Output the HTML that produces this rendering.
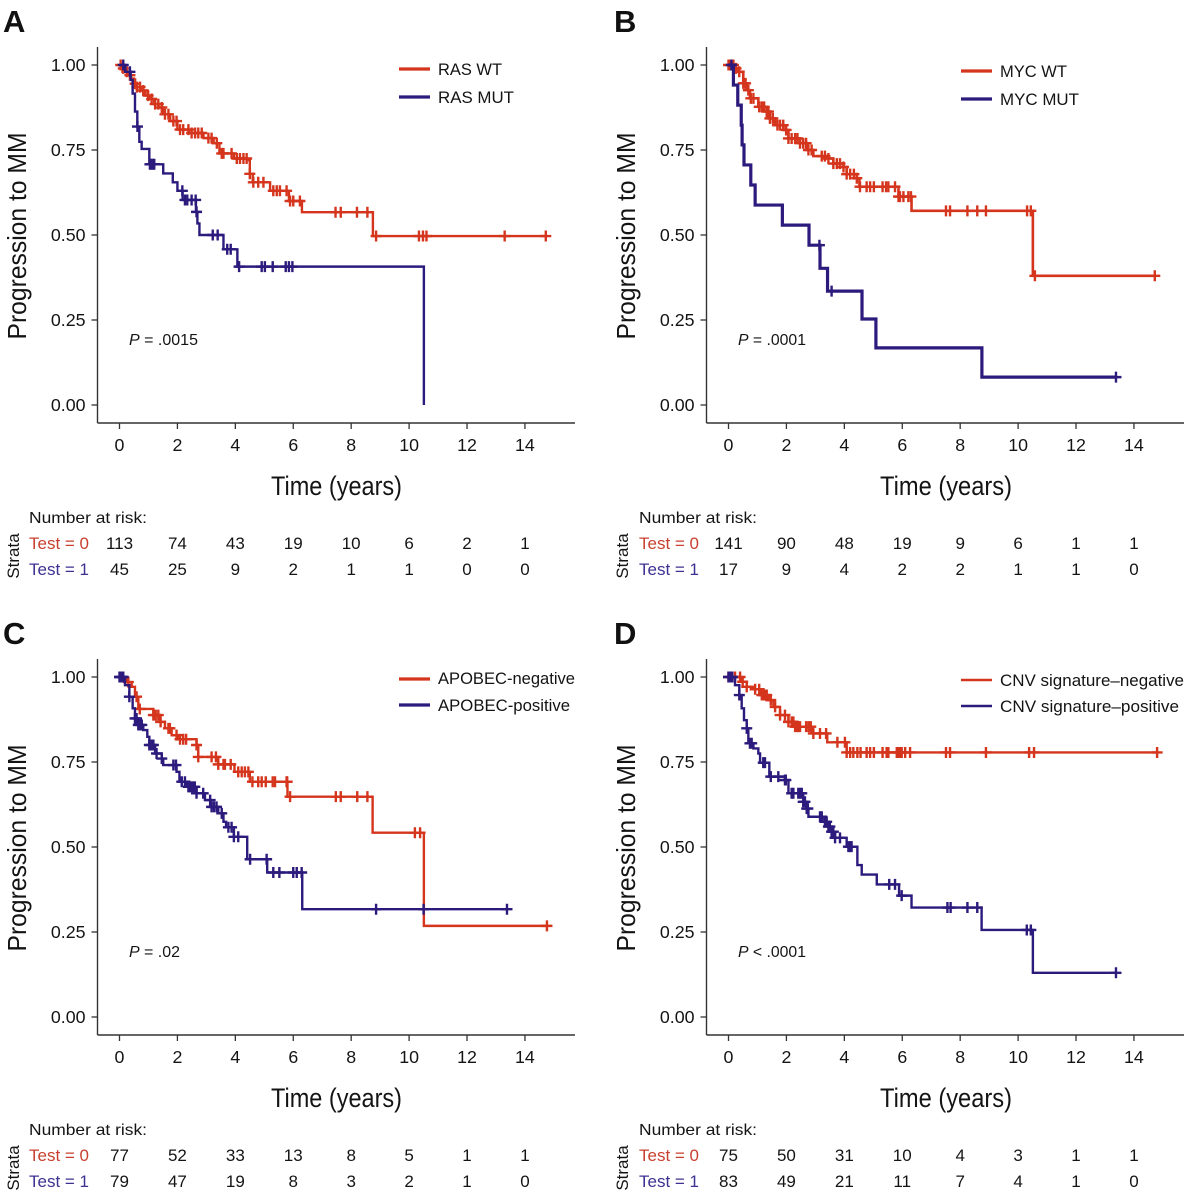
<!DOCTYPE html>
<html lang="en">
<head>
<meta charset="utf-8">
<title>Progression to MM Kaplan-Meier curves</title>
<style>
html,body{margin:0;padding:0;background:#fff;width:1195px;height:1200px;overflow:hidden}
svg{display:block}
text{font-family:"Liberation Sans",sans-serif;fill:#141414}
</style>
</head>
<body>
<svg id="figure" width="1195" height="1200" viewBox="0 0 1195 1200" xmlns="http://www.w3.org/2000/svg">
  <g>
    <text x="3" y="32" font-size="31" font-weight="bold" style="fill:#111">A</text>
    <text transform="translate(26,236) rotate(-90)" text-anchor="middle" font-size="26" textLength="207" lengthAdjust="spacingAndGlyphs">Progression to MM</text>
    <text x="271" y="495" font-size="27" textLength="131" lengthAdjust="spacingAndGlyphs">Time (years)</text>
    <text x="129" y="345" font-size="16" textLength="69" lengthAdjust="spacingAndGlyphs"><tspan font-style="italic">P</tspan> = .0015</text>
    <text x="29" y="523" font-size="16" textLength="118" lengthAdjust="spacingAndGlyphs">Number at risk:</text>
    <text transform="translate(19,556) rotate(-90)" text-anchor="middle" font-size="17">Strata</text>
    <text x="29" y="549" font-size="16.5" style="fill:#c8402f" textLength="60" lengthAdjust="spacingAndGlyphs">Test = 0</text>
    <text x="29" y="575" font-size="16.5" style="fill:#3d3192" textLength="60" lengthAdjust="spacingAndGlyphs">Test = 1</text>
    <text x="438" y="75" font-size="16.5" textLength="64" lengthAdjust="spacingAndGlyphs">RAS WT</text>
    <text x="438" y="103" font-size="16.5" textLength="76" lengthAdjust="spacingAndGlyphs">RAS MUT</text>
  </g>
  <g>
    <text x="614" y="32" font-size="31" font-weight="bold" style="fill:#111">B</text>
    <text transform="translate(635,236) rotate(-90)" text-anchor="middle" font-size="26" textLength="207" lengthAdjust="spacingAndGlyphs">Progression to MM</text>
    <text x="880" y="495" font-size="27" textLength="132" lengthAdjust="spacingAndGlyphs">Time (years)</text>
    <text x="738" y="345" font-size="16" textLength="68" lengthAdjust="spacingAndGlyphs"><tspan font-style="italic">P</tspan> = .0001</text>
    <text x="639" y="523" font-size="16" textLength="118" lengthAdjust="spacingAndGlyphs">Number at risk:</text>
    <text transform="translate(628,556) rotate(-90)" text-anchor="middle" font-size="17">Strata</text>
    <text x="639" y="549" font-size="16.5" style="fill:#c8402f" textLength="60" lengthAdjust="spacingAndGlyphs">Test = 0</text>
    <text x="639" y="575" font-size="16.5" style="fill:#3d3192" textLength="60" lengthAdjust="spacingAndGlyphs">Test = 1</text>
    <text x="1000" y="77" font-size="16.5" textLength="67" lengthAdjust="spacingAndGlyphs">MYC WT</text>
    <text x="1000" y="105" font-size="16.5" textLength="79" lengthAdjust="spacingAndGlyphs">MYC MUT</text>
  </g>
  <g>
    <text x="3" y="644" font-size="31" font-weight="bold" style="fill:#111">C</text>
    <text transform="translate(26,848) rotate(-90)" text-anchor="middle" font-size="26" textLength="207" lengthAdjust="spacingAndGlyphs">Progression to MM</text>
    <text x="271" y="1107" font-size="27" textLength="131" lengthAdjust="spacingAndGlyphs">Time (years)</text>
    <text x="129" y="957" font-size="16" textLength="51" lengthAdjust="spacingAndGlyphs"><tspan font-style="italic">P</tspan> = .02</text>
    <text x="29" y="1135" font-size="16" textLength="118" lengthAdjust="spacingAndGlyphs">Number at risk:</text>
    <text transform="translate(19,1168) rotate(-90)" text-anchor="middle" font-size="17">Strata</text>
    <text x="29" y="1161" font-size="16.5" style="fill:#c8402f" textLength="60" lengthAdjust="spacingAndGlyphs">Test = 0</text>
    <text x="29" y="1187" font-size="16.5" style="fill:#3d3192" textLength="60" lengthAdjust="spacingAndGlyphs">Test = 1</text>
    <text x="438" y="684" font-size="16.5" textLength="137" lengthAdjust="spacingAndGlyphs">APOBEC-negative</text>
    <text x="438" y="711" font-size="16.5" textLength="132" lengthAdjust="spacingAndGlyphs">APOBEC-positive</text>
  </g>
  <g>
    <text x="614" y="644" font-size="31" font-weight="bold" style="fill:#111">D</text>
    <text transform="translate(635,848) rotate(-90)" text-anchor="middle" font-size="26" textLength="207" lengthAdjust="spacingAndGlyphs">Progression to MM</text>
    <text x="880" y="1107" font-size="27" textLength="132" lengthAdjust="spacingAndGlyphs">Time (years)</text>
    <text x="738" y="957" font-size="16" textLength="68" lengthAdjust="spacingAndGlyphs"><tspan font-style="italic">P</tspan> &lt; .0001</text>
    <text x="639" y="1135" font-size="16" textLength="118" lengthAdjust="spacingAndGlyphs">Number at risk:</text>
    <text transform="translate(628,1168) rotate(-90)" text-anchor="middle" font-size="17">Strata</text>
    <text x="639" y="1161" font-size="16.5" style="fill:#c8402f" textLength="60" lengthAdjust="spacingAndGlyphs">Test = 0</text>
    <text x="639" y="1187" font-size="16.5" style="fill:#3d3192" textLength="60" lengthAdjust="spacingAndGlyphs">Test = 1</text>
    <text x="1000" y="686" font-size="16.5" textLength="184" lengthAdjust="spacingAndGlyphs">CNV signature–negative</text>
    <text x="1000" y="712" font-size="16.5" textLength="179" lengthAdjust="spacingAndGlyphs">CNV signature–positive</text>
  </g>
</svg>
<script>
// Shared tick labels
const xTickValues = [0, 2, 4, 6, 8, 10, 12, 14];
const yTickValues = [0, 0.25, 0.5, 0.75, 1];
const yTickLabels = ['0.00', '0.25', '0.50', '0.75', '1.00'];

// Panel A (RAS)
const aRedTimes = [0,.1,.2,.3,.4,.5,.6,.75,.9,1.05,1.2,1.35,1.5,1.75,2,2.4,2.9,3.25,3.45,3.95,4.4,4.5,4.6,5.2,5.85,6.3,8.75];
const aRedSurv = [1,.99,.98,.97,.96,.945,.935,.925,.91,.9,.885,.875,.855,.835,.81,.8,.785,.77,.74,.725,.72,.68,.655,.63,.6,.567,.497];
const aRedCensor = [.04,.13,.25,.36,.54,.6,.71,.82,.99,1.11,1.23,1.34,1.46,1.57,1.69,1.86,1.97,2.09,2.2,2.38,2.49,2.61,2.72,2.84,3.07,3.18,3.36,3.53,3.59,3.87,4.05,4.16,4.28,4.39,4.5,4.62,4.79,4.97,5.31,5.43,5.54,5.77,5.89,6,6.23,7.46,7.64,8.2,8.56,8.86,10.34,10.48,10.6,13.3,14.72];
const aBlueTimes = [0,.2,.385,.454,.535,.615,.685,.765,1.03,1.51,1.84,2,2.18,2.64,2.69,2.76,3.59,4.07,10.51];
const aBlueSurv = [1,.98,.956,.916,.863,.819,.774,.753,.708,.681,.655,.63,.603,.568,.534,.5,.458,.407,0];
const aBlueCensor = [.13,.36,.62,1.05,1.1,1.15,1.2,2.17,2.26,2.34,2.49,2.63,2.66,3.22,3.39,3.72,3.84,4.13,4.91,5.02,5.29,5.74,5.85,5.97];
const aRiskRed = [113,74,43,19,10,6,2,1];
const aRiskBlue = [45,25,9,2,1,1,0,0];

// Panel B (MYC)
const bRedTimes = [0,.2,.34,.51,.63,.74,1.03,1.32,1.43,1.61,1.9,2.07,2.47,2.7,2.93,3.39,3.62,3.97,4.08,4.43,4.52,5.87,6.32,10.51];
const bRedSurv = [1,.99,.98,.946,.926,.902,.877,.863,.843,.823,.809,.784,.77,.75,.732,.725,.71,.7,.679,.667,.642,.613,.571,.38];
const bRedCensor = [0,.075,.17,.26,.37,.51,.59,.685,.77,.86,1.06,1.15,1.23,1.32,1.38,1.43,1.53,1.69,1.78,1.89,1.99,2.07,2.18,2.3,2.38,2.47,2.58,2.68,2.76,2.87,3.22,3.33,3.45,3.62,3.74,3.85,3.97,4.08,4.2,4.33,4.43,4.54,4.77,4.89,5.02,5.32,5.44,5.52,5.75,5.87,5.92,6.04,6.21,6.3,7.51,7.65,8.25,8.59,8.89,10.31,10.44,10.58,14.72];
const bBlueTimes = [0,.17,.32,.44,.47,.535,.77,.92,1.86,2.78,3.16,3.42,4.61,5.09,8.75];
const bBlueSurv = [1,.941,.882,.823,.765,.706,.647,.588,.529,.47,.402,.335,.253,.168,.082];
const bBlueCensor = [.1,3.14,3.56,13.38];
const bRiskRed = [141,90,48,19,9,6,1,1];
const bRiskBlue = [17,9,4,2,2,1,1,0];

// Panel C (APOBEC)
const cRedTimes = [0,.25,.42,.535,.65,1.17,1.4,1.57,1.8,2.03,2.66,2.72,3.41,3.97,4.5,5.8,8.74,10.51];
const cRedSurv = [1,.985,.971,.942,.906,.888,.868,.849,.829,.817,.8,.765,.743,.721,.692,.648,.542,.268];
const cRedCensor = [.305,.59,.7,1.17,1.25,1.34,1.42,1.69,1.74,1.97,2.09,2.2,2.3,2.66,2.72,3.18,3.33,3.41,3.59,3.64,3.84,4.1,4.22,4.33,4.45,4.59,4.79,4.91,5.05,5.29,5.37,5.77,5.79,5.89,7.47,7.64,8.21,8.56,10.2,10.38,14.76];
const cBlueTimes = [0,.19,.34,.454,.535,.65,.82,.96,1.03,1.23,1.46,1.51,1.97,2.07,2.32,2.66,2.95,3.15,3.41,3.59,3.68,3.95,4.41,5.1,6.31];
const cBlueSurv = [1,.976,.942,.908,.878,.859,.844,.824,.8,.775,.76,.741,.721,.692,.677,.658,.638,.618,.599,.574,.558,.53,.464,.425,.317];
const cBlueCensor = [0,.02,.07,.13,.34,.535,.59,.65,.71,.77,1.03,1.11,1.17,1.28,1.46,1.86,1.95,2.15,2.26,2.38,2.43,2.49,2.55,2.6,2.66,2.89,3.13,3.18,3.26,3.35,3.53,3.76,3.87,3.95,4.1,4.51,5.08,5.31,5.52,6,6.12,6.29,8.86,10.5,13.38];
const cRiskRed = [77,52,33,13,8,5,1,1];
const cRiskBlue = [79,47,19,8,3,2,1,0];

// Panel D (CNV signature)
const dRedTimes = [0,.45,.63,.86,1.09,1.38,1.55,1.78,2.07,2.3,2.87,3.41,4.08];
const dRedSurv = [1,.986,.971,.964,.947,.932,.912,.888,.868,.854,.834,.808,.778];
const dRedCensor = [0,.225,.4,.49,.63,.92,1.06,1.15,1.2,1.26,1.32,1.46,1.61,1.78,1.95,2.07,2.18,2.24,2.3,2.35,2.41,2.47,2.68,2.76,2.84,2.93,3.16,3.37,3.76,4.02,4.08,4.2,4.31,4.45,4.56,4.77,4.89,5.02,5.32,5.46,5.52,5.81,5.87,5.92,5.98,6.1,6.27,7.51,7.65,8.89,10.38,10.55,14.8];
const dBlueTimes = [0,.225,.374,.455,.535,.63,.685,.86,1.03,1.09,1.41,1.95,2.07,2.58,2.7,2.76,3.25,3.45,3.56,3.68,4.08,4.45,4.6,5.12,5.89,6.32,8.74,10.51];
const dBlueSurv = [1,.976,.947,.908,.873,.849,.805,.79,.775,.748,.707,.697,.658,.633,.613,.589,.574,.56,.545,.527,.501,.447,.419,.39,.357,.322,.256,.13];
const dBlueCensor = [0,.075,.13,.374,.63,.74,.8,1.2,1.26,1.46,1.72,1.95,1.98,2.18,2.24,2.41,2.47,2.53,2.58,2.64,2.7,2.74,3.16,3.22,3.33,3.39,3.45,3.5,3.56,3.62,3.68,3.85,4.14,4.2,4.25,5.55,5.75,5.98,7.56,7.67,8.25,8.59,10.3,10.44,13.38];
const dRiskRed = [75,50,31,10,4,3,1,1];
const dRiskBlue = [83,49,21,11,7,4,1,0];

const RED = '#d4351c';
const BLUE = '#2c1a7d';
const NS = 'http://www.w3.org/2000/svg';
const svg = document.getElementById('figure');

function make(parent, tag, attrs, txt) {
  const n = document.createElementNS(NS, tag);
  for (const k in attrs) n.setAttribute(k, attrs[k]);
  if (txt !== undefined) n.textContent = txt;
  parent.appendChild(n);
  return n;
}
function stepValue(times, surv, t) {
  let v = surv[0];
  for (let i = 0; i < times.length; i++) { if (times[i] <= t) v = surv[i]; }
  return v;
}
function drawCurve(g, key, color, width, times, surv, censor, xs, ys) {
  const end = Math.max(times[times.length - 1], censor[censor.length - 1]);
  let d = 'M' + xs(times[0]).toFixed(2) + ' ' + ys(surv[0]).toFixed(2);
  for (let i = 1; i < times.length; i++) {
    d += 'H' + xs(times[i]).toFixed(2) + 'V' + ys(surv[i]).toFixed(2);
  }
  d += 'H' + xs(end).toFixed(2);
  const line = make(g, 'path', {d: d, fill: 'none', stroke: color, 'stroke-width': width, 'stroke-linejoin': 'miter'});
  
  
  censor.forEach(function (t) {
    const cx = xs(t), cy = ys(stepValue(times, surv, t));
    const mark = make(g, 'path', {d: 'M' + (cx - 5.5).toFixed(2) + ' ' + cy.toFixed(2) + 'h11M' + cx.toFixed(2) + ' ' + (cy - 5.5).toFixed(2) + 'v11', fill: 'none', stroke: color, 'stroke-width': 2.4});
    
    
  });
}
function drawPanel(p) {
  const g = make(svg, 'g', {});
  
  
  const xs = function (t) { return p.x0 + t * 28.96; };
  const ys = function (s) { return p.y0 + (1 - s) * 340; };
  const axisLeft = p.x0 - 22, axisBottom = p.y0 + 358, axisTop = p.y0 - 18, axisRight = p.x0 + 455.5;

  const yAxis = make(g, 'line', {x1: axisLeft, x2: axisLeft, y1: axisTop, y2: axisBottom, stroke: '#333', 'stroke-width': 1.4});
  
  
  const xAxis = make(g, 'line', {x1: axisLeft, x2: axisRight, y1: axisBottom, y2: axisBottom, stroke: '#333', 'stroke-width': 1.4});
  
  

  yTickValues.forEach(function (v, i) {
    const tick = make(g, 'line', {x1: axisLeft - 6, x2: axisLeft, y1: ys(v), y2: ys(v), stroke: '#333', 'stroke-width': 1.3});
    
    
    const lab = make(g, 'text', {x: axisLeft - 12, y: ys(v) + 6, 'text-anchor': 'end', 'font-size': 17.8}, yTickLabels[i]);
    
    
  });
  xTickValues.forEach(function (v, i) {
    const tick = make(g, 'line', {x1: xs(v), x2: xs(v), y1: axisBottom, y2: axisBottom + 6, stroke: '#333', 'stroke-width': 1.3});
    
    
    const lab = make(g, 'text', {x: xs(v), y: axisBottom + 28, 'text-anchor': 'middle', 'font-size': 17.8}, String(v));
    
    
    const r0 = make(g, 'text', {x: xs(v), y: p.y0 + 484, 'text-anchor': 'middle', 'font-size': 17}, String(p.riskRed[i]));
    
    
    const r1 = make(g, 'text', {x: xs(v), y: p.y0 + 510, 'text-anchor': 'middle', 'font-size': 17}, String(p.riskBlue[i]));
    
    
  });

  drawCurve(g, 'red', RED, p.redWidth, p.redTimes, p.redSurv, p.redCensor, xs, ys);
  drawCurve(g, 'blue', BLUE, p.blueWidth, p.blueTimes, p.blueSurv, p.blueCensor, xs, ys);

  const l0 = make(g, 'line', {x1: p.legendX, x2: p.legendX + 31, y1: p.legendY[0], y2: p.legendY[0], stroke: RED, 'stroke-width': p.legendWidth});
  
  
  const l1 = make(g, 'line', {x1: p.legendX, x2: p.legendX + 31, y1: p.legendY[1], y2: p.legendY[1], stroke: BLUE, 'stroke-width': p.legendWidth});
  
  
}

drawPanel({id: 'a', x0: 119.5, y0: 65, redWidth: 2.4, blueWidth: 2.4,
  redTimes: aRedTimes, redSurv: aRedSurv, redCensor: aRedCensor,
  blueTimes: aBlueTimes, blueSurv: aBlueSurv, blueCensor: aBlueCensor,
  riskRed: aRiskRed, riskBlue: aRiskBlue, legendX: 399, legendY: [69, 97], legendWidth: 3.2});
drawPanel({id: 'b', x0: 728.5, y0: 65, redWidth: 2.6, blueWidth: 3.2,
  redTimes: bRedTimes, redSurv: bRedSurv, redCensor: bRedCensor,
  blueTimes: bBlueTimes, blueSurv: bBlueSurv, blueCensor: bBlueCensor,
  riskRed: bRiskRed, riskBlue: bRiskBlue, legendX: 961, legendY: [71, 99], legendWidth: 3.2});
drawPanel({id: 'c', x0: 119.5, y0: 677, redWidth: 2.4, blueWidth: 2.4,
  redTimes: cRedTimes, redSurv: cRedSurv, redCensor: cRedCensor,
  blueTimes: cBlueTimes, blueSurv: cBlueSurv, blueCensor: cBlueCensor,
  riskRed: cRiskRed, riskBlue: cRiskBlue, legendX: 399, legendY: [679, 705], legendWidth: 3.2});
drawPanel({id: 'd', x0: 728.5, y0: 677, redWidth: 2.4, blueWidth: 2.4,
  redTimes: dRedTimes, redSurv: dRedSurv, redCensor: dRedCensor,
  blueTimes: dBlueTimes, blueSurv: dBlueSurv, blueCensor: dBlueCensor,
  riskRed: dRiskRed, riskBlue: dRiskBlue, legendX: 961, legendY: [680, 706], legendWidth: 2.6});
</script>
</body>
</html>
